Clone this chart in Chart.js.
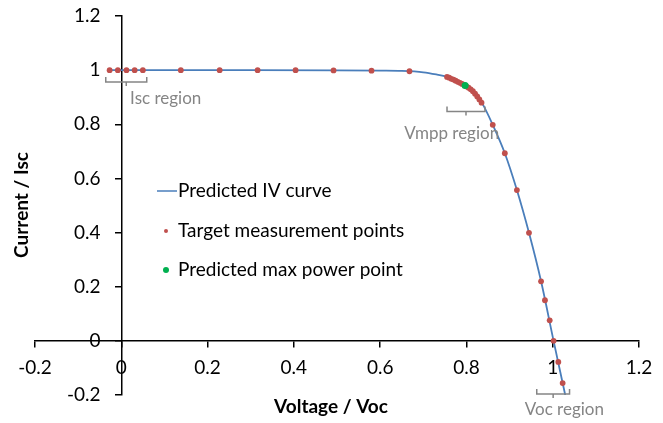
<!DOCTYPE html>
<html>
<head>
<meta charset="utf-8">
<script src="https://cdn.jsdelivr.net/npm/chart.js@4.4.0/dist/chart.umd.min.js"></script>
<style>
  html, body { margin: 0; padding: 0; background: #fff; }
  #wrap { width: 663px; height: 423px; }
</style>
</head>
<body>
<div id="wrap"><canvas id="ivChart"></canvas></div>
<script>
// Predicted IV curve, normalised (V/Voc, I/Isc)
const curveV = [-0.027, 0.1, 0.3, 0.5, 0.6, 0.65, 0.7, 0.73, 0.755, 0.78, 0.797, 0.816, 0.836, 0.861, 0.889, 0.917, 0.945, 0.973, 1.002, 1.029];
const curveI = [1.0, 1.0, 1.0, 0.999, 0.998, 0.997, 0.992, 0.984, 0.975, 0.958, 0.943, 0.921, 0.879, 0.798, 0.693, 0.557, 0.399, 0.22, 0.0, -0.2];

// Target measurement points: Isc region, flat part, Vmpp region, then the drop to Voc
const measV = [-0.027, -0.008, 0.012, 0.031, 0.05,
  0.138, 0.228, 0.316, 0.404, 0.492, 0.58, 0.668,
  0.755, 0.76, 0.765, 0.77, 0.775, 0.78, 0.785, 0.79, 0.795, 0.8, 0.805, 0.81, 0.815, 0.82, 0.825, 0.83, 0.835,
  0.861, 0.889, 0.917, 0.945, 0.973, 0.982, 0.993, 1.002, 1.013, 1.023];
const measI = [1.0, 1.0, 1.0, 1.0, 1.0,
  1.0, 1.0, 1.0, 1.0, 0.999, 0.998, 0.996,
  0.975, 0.972, 0.968, 0.965, 0.961, 0.957, 0.953, 0.949, 0.945, 0.94, 0.935, 0.929, 0.922, 0.913, 0.903, 0.892, 0.88,
  0.798, 0.693, 0.557, 0.399, 0.22, 0.15, 0.076, 0.0, -0.078, -0.156];

// Predicted max power point
const mppV = [0.797];
const mppI = [0.943];

const xTicks = [-0.2, 0, 0.2, 0.4, 0.6, 0.8, 1, 1.2];
const yTicks = [-0.2, 0, 0.2, 0.4, 0.6, 0.8, 1, 1.2];

const toPoints = (xs, ys) => xs.map((v, i) => ({ x: v, y: ys[i] }));

const FONT = 'Lato';
const tickFont = { family: FONT, size: 19 };
const GREY = '#858585';

// regions marked with a bracket under the points
const regions = [
  { text: 'Isc region', from: -0.036, to: 0.059, at: 0.956, tx: 0.103, ty: 0.894 },
  { text: 'Vmpp region', from: 0.755, to: 0.843, at: 0.847, tx: 0.766, ty: 0.765 },
  { text: 'Voc region', from: 0.963, to: 1.039, at: -0.196, tx: 1.027, ty: -0.254 }
];

const extras = {
  id: 'extras',
  afterDatasetsDraw(chart) {
    const { ctx, scales: { x, y } } = chart;
    ctx.save();
    ctx.strokeStyle = GREY;
    ctx.lineWidth = 1.5;
    ctx.fillStyle = GREY;
    ctx.font = '17px ' + FONT;
    ctx.textAlign = 'center';
    ctx.textBaseline = 'middle';
    regions.forEach(r => {
      const x1 = x.getPixelForValue(r.from);
      const x2 = x.getPixelForValue(r.to);
      const xm = (x1 + x2) / 2;
      const yb = y.getPixelForValue(r.at);
      ctx.beginPath();
      ctx.moveTo(x1, yb - 5);
      ctx.lineTo(x1, yb);
      ctx.lineTo(x2, yb);
      ctx.lineTo(x2, yb - 5);
      ctx.moveTo(xm, yb);
      ctx.lineTo(xm, yb + 4);
      ctx.stroke();
      ctx.fillText(r.text, x.getPixelForValue(r.tx), y.getPixelForValue(r.ty));
    });
    ctx.restore();
  },
  afterDraw(chart) {
    const { ctx } = chart;
    ctx.save();
    // legend
    ctx.font = '19px ' + FONT;
    ctx.textAlign = 'left';
    ctx.textBaseline = 'middle';
    ctx.fillStyle = '#000';
    ctx.strokeStyle = '#4a7ebb';
    ctx.lineWidth = 1.5;
    ctx.beginPath();
    ctx.moveTo(157, 191);
    ctx.lineTo(177, 191);
    ctx.stroke();
    ctx.fillText('Predicted IV curve', 178, 191);
    ctx.fillStyle = '#c0504d';
    ctx.beginPath();
    ctx.arc(166, 231, 2, 0, Math.PI * 2);
    ctx.fill();
    ctx.fillStyle = '#000';
    ctx.fillText('Target measurement points', 178, 231);
    ctx.fillStyle = '#00b050';
    ctx.beginPath();
    ctx.arc(166, 270, 3, 0, Math.PI * 2);
    ctx.fill();
    ctx.fillStyle = '#000';
    ctx.fillText('Predicted max power point', 178, 270);

    // axis titles
    ctx.font = 'bold 19px ' + FONT;
    ctx.textAlign = 'center';
    ctx.fillText('Voltage / Voc', 331, 407);
    ctx.translate(22, 205);
    ctx.rotate(-Math.PI / 2);
    ctx.fillText('Current / Isc', 0, 0);
    ctx.restore();
  }
};

const setTicks = list => s => { s.ticks = list.map(v => ({ value: v })); };
const noSpace = s => { s.width = s.isHorizontal() ? s.width : 0; s.height = s.isHorizontal() ? 0 : s.height;
  s.paddingLeft = s.paddingRight = s.paddingTop = s.paddingBottom = 0; };

const ctx = document.getElementById('ivChart').getContext('2d');
const ivChart = new Chart(ctx, {
  type: 'scatter',
  data: {
    datasets: [
      {
        label: 'Predicted max power point',
        data: toPoints(mppV, mppI),
        yAxisID: 'y',
        backgroundColor: '#00b050',
        borderWidth: 0,
        pointRadius: 3.5,
        order: 1
      },
      {
        label: 'Target measurement points',
        data: toPoints(measV, measI),
        yAxisID: 'y',
        backgroundColor: '#c0504d',
        borderWidth: 0,
        pointRadius: 2.9,
        order: 2
      },
      {
        label: 'Predicted IV curve',
        data: toPoints(curveV, curveI),
        yAxisID: 'y',
        showLine: true,
        borderColor: '#4a7ebb',
        borderWidth: 1.8,
        pointRadius: 0,
        cubicInterpolationMode: 'monotone',
        order: 3
      }
    ]
  },
  options: {
    responsive: true,
    maintainAspectRatio: false,
    animation: false,
    layout: { padding: { left: 35, right: 24, top: 16, bottom: 28 } },
    plugins: { legend: { display: false }, tooltip: { enabled: false } },
    scales: {
      x: {
        type: 'linear', min: -0.2, max: 1.2,
        position: { y: 0 },
        afterBuildTicks: setTicks(xTicks),
        afterFit: noSpace,
        border: { display: true, color: '#000', width: 1.5 },
        grid: { drawOnChartArea: false, drawTicks: true, tickLength: 6, color: '#000', lineWidth: 1.5 },
        ticks: { color: '#000', font: tickFont, padding: 10, maxRotation: 0, autoSkip: false, callback: v => String(v) }
      },
      y: {
        type: 'linear', axis: 'y', min: -0.2, max: 1.2,
        position: { x: 0 },
        afterBuildTicks: setTicks(yTicks),
        afterFit: noSpace,
        border: { display: true, color: '#000', width: 1.5 },
        grid: { drawOnChartArea: false, drawTicks: true, tickLength: 6, color: '#000', lineWidth: 1.5 },
        ticks: { display: false }
      },
      // tick labels of the current axis, set a little left of the axis line
      yl: {
        type: 'linear', axis: 'y', min: -0.2, max: 1.2,
        position: { x: -0.048 },
        afterBuildTicks: setTicks(yTicks),
        afterFit: noSpace,
        border: { display: false },
        grid: { display: false },
        ticks: { color: '#000', font: tickFont, autoSkip: false, callback: v => String(v) }
      }
    }
  },
  plugins: [extras]
});
</script>
</body>
</html>
